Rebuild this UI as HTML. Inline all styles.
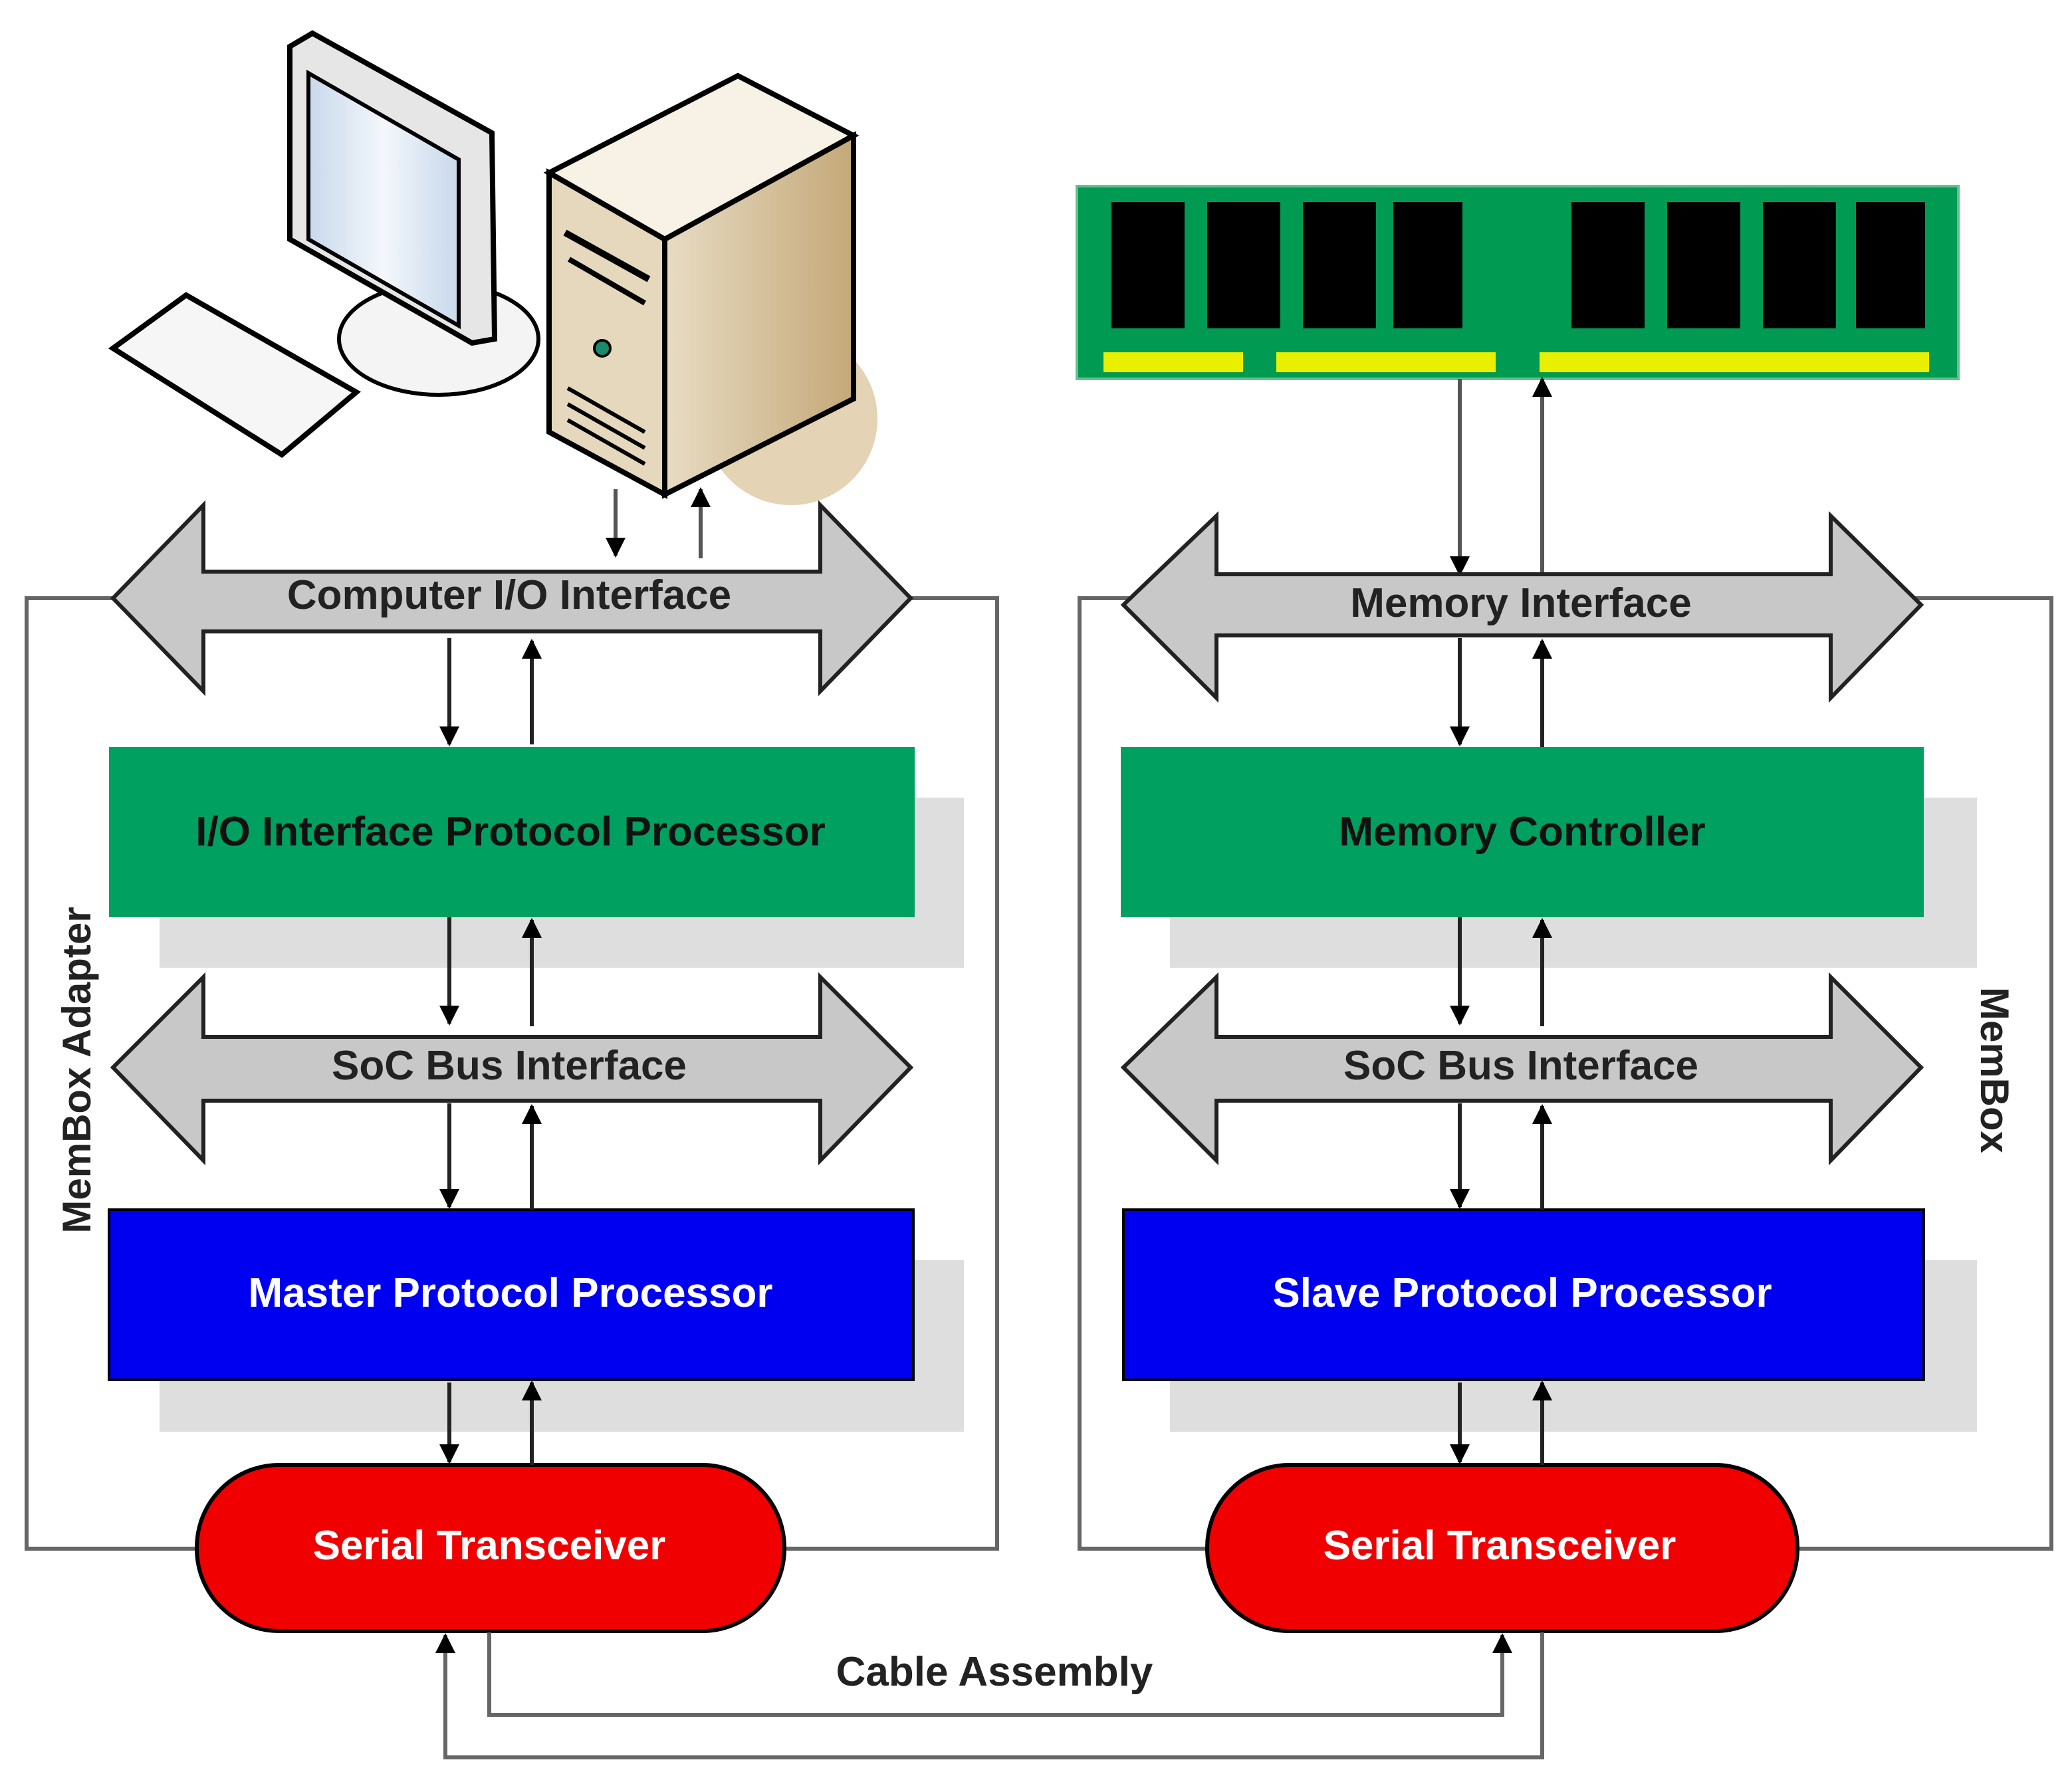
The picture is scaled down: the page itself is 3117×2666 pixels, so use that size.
<!DOCTYPE html>
<html><head><style>html,body{margin:0;padding:0;background:#fff}svg{display:block}</style></head><body>
<svg width="3117" height="2666" viewBox="0 0 1558.5 1333" xmlns="http://www.w3.org/2000/svg" font-family="Liberation Sans, sans-serif" font-weight="bold">
<defs>
<marker id="ah" viewBox="0 0 10 10" refX="9" refY="5" markerWidth="5" markerHeight="5" orient="auto"><path d="M0,0L10,5L0,10z" fill="#000"/></marker>
<linearGradient id="scr" x1="0" x2="1"><stop offset="0" stop-color="#c8d8ec"/><stop offset=".5" stop-color="#f4f7fb"/><stop offset="1" stop-color="#c8d8ec"/></linearGradient>
<linearGradient id="tw" x1="0" x2="1"><stop offset="0" stop-color="#e8dcc4"/><stop offset="1" stop-color="#c4a878"/></linearGradient>
</defs>
<!-- outer boxes -->
<rect x="20" y="450" width="730" height="715" fill="none" stroke="#666" stroke-width="3"/>
<rect x="812" y="450" width="731" height="715" fill="none" stroke="#666" stroke-width="3"/>
<!-- computer -->
<circle cx="595" cy="315" r="65" fill="#e4d3b4"/>
<ellipse cx="330" cy="255" rx="75" ry="42" fill="#f4f4f4" stroke="#000" stroke-width="3"/>
<polygon points="218,35 235,25 370,100 372,255 355,258 218,180" fill="#e6e6e6" stroke="#000" stroke-width="4"/>
<polygon points="232,55 345,120 345,245 232,180" fill="url(#scr)" stroke="#000" stroke-width="3"/>
<polygon points="85,262 140,222 268,295 212,342" fill="#f6f6f6" stroke="#000" stroke-width="4"/>
<polygon points="413,130 555,57 642,102 500,180" fill="#f7f1e6" stroke="#000" stroke-width="4"/>
<polygon points="413,130 500,180 500,372 413,325" fill="#e6d8bc" stroke="#000" stroke-width="4"/>
<polygon points="500,180 642,102 642,300 500,372" fill="url(#tw)" stroke="#000" stroke-width="4"/>
<line x1="425" y1="175" x2="488" y2="210" stroke="#000" stroke-width="5"/>
<line x1="428" y1="195" x2="485" y2="228" stroke="#000" stroke-width="4"/>
<circle cx="453" cy="262" r="6" fill="#1a8a6a" stroke="#000" stroke-width="2"/>
<g stroke="#000" stroke-width="3"><line x1="427" y1="292" x2="485" y2="325"/><line x1="427" y1="304" x2="485" y2="337"/><line x1="427" y1="316" x2="485" y2="349"/></g>
<!-- memory stick -->
<rect x="810" y="140" width="663" height="145" fill="#009a52" stroke="#66c08e" stroke-width="2"/>
<g fill="#000"><rect x="836" y="152" width="55" height="95"/><rect x="908" y="152" width="55" height="95"/><rect x="980" y="152" width="55" height="95"/><rect x="1048" y="152" width="52" height="95"/><rect x="1182" y="152" width="55" height="95"/><rect x="1254" y="152" width="55" height="95"/><rect x="1326" y="152" width="55" height="95"/><rect x="1396" y="152" width="52" height="95"/></g>
<g fill="#e8f000"><rect x="830" y="265" width="105" height="15"/><rect x="960" y="265" width="165" height="15"/><rect x="1158" y="265" width="293" height="15"/></g>
<!-- arrows top -->
<g stroke="#555" stroke-width="3" fill="none">
<line x1="463" y1="368" x2="463" y2="418" marker-end="url(#ah)"/>
<line x1="527" y1="420" x2="527" y2="368" marker-end="url(#ah)"/>
<line x1="1098" y1="285" x2="1098" y2="432" marker-end="url(#ah)"/>
<line x1="1160" y1="432" x2="1160" y2="285" marker-end="url(#ah)"/>
</g>
<!-- big double arrows -->
<g fill="#c8c8c8" stroke="#222" stroke-width="3">
<polygon points="85,450 153,380 153,430 617,430 617,380 685,450 617,520 617,475 153,475 153,520"/>
<polygon points="845,455 915,388 915,432 1377,432 1377,388 1445,455 1377,525 1377,478 915,478 915,525"/>
<polygon points="85,803 153,735 153,780 617,780 617,735 685,803 617,873 617,828 153,828 153,873"/>
<polygon points="845,803 915,735 915,780 1377,780 1377,735 1445,803 1377,873 1377,828 915,828 915,873"/>
</g>
<g font-size="31" fill="#222" text-anchor="middle">
<text x="383" y="458">Computer I/O Interface</text>
<text x="1144" y="464">Memory Interface</text>
<text x="383" y="812">SoC Bus Interface</text>
<text x="1144" y="812">SoC Bus Interface</text>
</g>
<!-- shadows -->
<g fill="#dedede"><rect x="120" y="600" width="605" height="128"/><rect x="880" y="600" width="607" height="128"/><rect x="120" y="948" width="605" height="129"/><rect x="880" y="948" width="607" height="129"/></g>
<rect x="82" y="562" width="606" height="128" fill="#00a060"/>
<rect x="843" y="562" width="604" height="128" fill="#00a060"/>
<rect x="82" y="910" width="605" height="128" fill="#0000f0" stroke="#000" stroke-width="2"/>
<rect x="845" y="910" width="602" height="128" fill="#0000f0" stroke="#000" stroke-width="2"/>
<rect x="148" y="1102" width="442" height="125" rx="62" fill="#f00000" stroke="#000" stroke-width="3"/>
<rect x="908" y="1102" width="444" height="125" rx="62" fill="#f00000" stroke="#000" stroke-width="3"/>
<g font-size="31" text-anchor="middle">
<text x="384" y="636" fill="#111">I/O Interface Protocol Processor</text>
<text x="1145" y="636" fill="#111">Memory Controller</text>
<text x="384" y="983" fill="#fff">Master Protocol Processor</text>
<text x="1145" y="983" fill="#fff">Slave Protocol Processor</text>
<text x="368" y="1173" fill="#fff">Serial Transceiver</text>
<text x="1128" y="1173" fill="#fff">Serial Transceiver</text>
<text x="748" y="1268" fill="#222">Cable Assembly</text>
</g>
<text transform="translate(68,805) rotate(-90)" font-size="30" text-anchor="middle" fill="#222">MemBox Adapter</text>
<text transform="translate(1490,805) rotate(90)" font-size="30" text-anchor="middle" fill="#222">MemBox</text>
<!-- inner arrows -->
<g stroke="#222" stroke-width="3" fill="none">
<line x1="338" y1="480" x2="338" y2="560" marker-end="url(#ah)"/><line x1="400" y1="560" x2="400" y2="482" marker-end="url(#ah)"/>
<line x1="338" y1="690" x2="338" y2="770" marker-end="url(#ah)"/><line x1="400" y1="772" x2="400" y2="692" marker-end="url(#ah)"/>
<line x1="338" y1="830" x2="338" y2="908" marker-end="url(#ah)"/><line x1="400" y1="910" x2="400" y2="832" marker-end="url(#ah)"/>
<line x1="338" y1="1040" x2="338" y2="1100" marker-end="url(#ah)"/><line x1="400" y1="1102" x2="400" y2="1040" marker-end="url(#ah)"/>
<line x1="1098" y1="480" x2="1098" y2="560" marker-end="url(#ah)"/><line x1="1160" y1="562" x2="1160" y2="482" marker-end="url(#ah)"/>
<line x1="1098" y1="690" x2="1098" y2="770" marker-end="url(#ah)"/><line x1="1160" y1="772" x2="1160" y2="692" marker-end="url(#ah)"/>
<line x1="1098" y1="830" x2="1098" y2="908" marker-end="url(#ah)"/><line x1="1160" y1="910" x2="1160" y2="832" marker-end="url(#ah)"/>
<line x1="1098" y1="1040" x2="1098" y2="1100" marker-end="url(#ah)"/><line x1="1160" y1="1102" x2="1160" y2="1040" marker-end="url(#ah)"/>
</g>
<g stroke="#666" stroke-width="3" fill="none">
<polyline points="368,1228 368,1290 1130,1290 1130,1230" marker-end="url(#ah)"/>
<polyline points="1160,1228 1160,1322 335,1322 335,1230" marker-end="url(#ah)"/>
</g>
</svg>
</body></html>
